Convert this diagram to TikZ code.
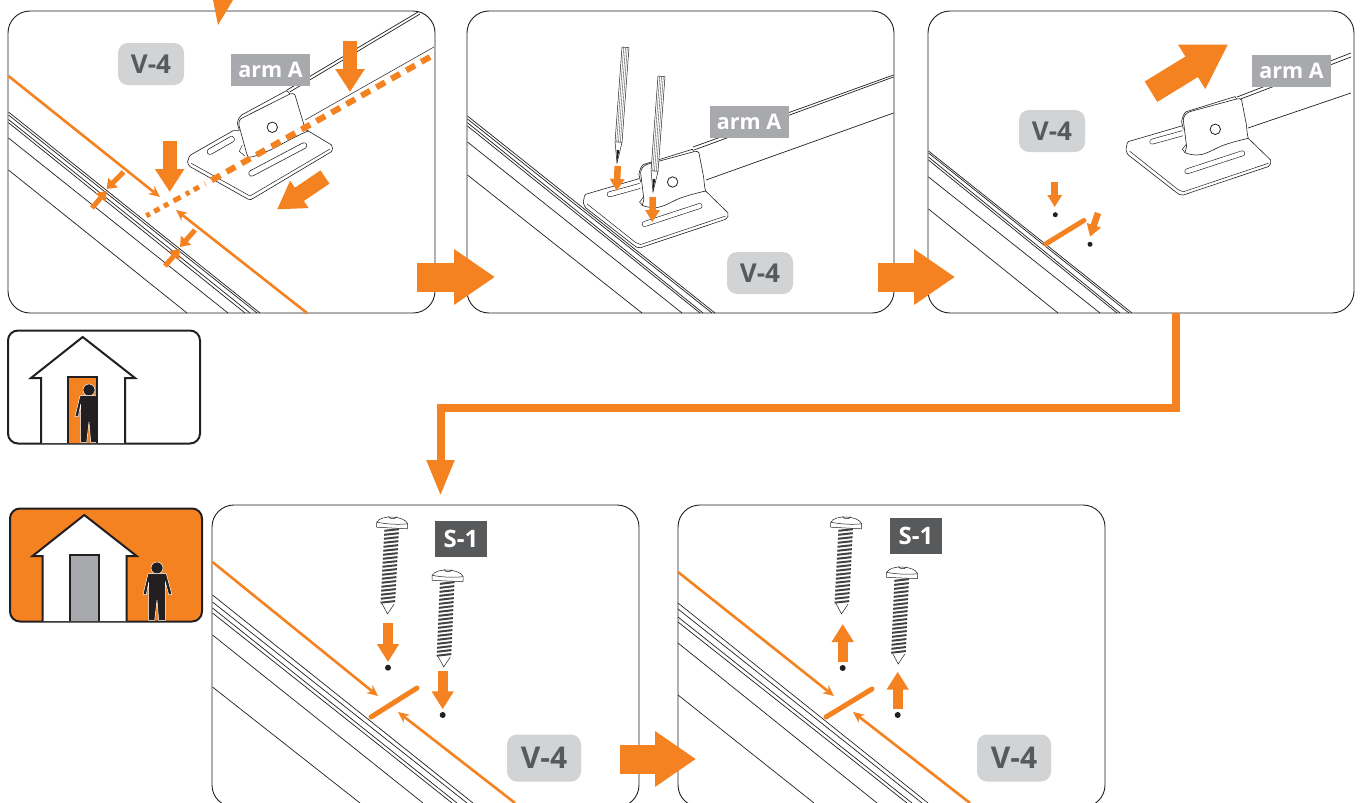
\documentclass[tikz,border=0pt]{standalone}
\usepackage{fontspec}
\setmainfont{Open Sans}
\usetikzlibrary{arrows.meta}
\definecolor{brand}{HTML}{F58220}
\definecolor{ink}{HTML}{231F20}
\definecolor{slate}{HTML}{58595B}
\definecolor{mist}{HTML}{D1D3D4}
\definecolor{steel}{HTML}{A7A9AC}
\tikzset{
  panel/.style={draw=ink,line width=0.9pt,rounded corners=22pt,minimum width=427pt,minimum height=302pt,inner sep=0pt,outer sep=0pt},
  iconbox/.style={draw=ink,line width=2pt,rounded corners=10pt,minimum width=192pt,minimum height=113pt,inner sep=0pt,outer sep=0pt,fill=#1},
  iconbox/.default=white,
  badge/.style={fill=mist,text=slate,rounded corners=10pt,minimum width=66pt,minimum height=42pt,inner sep=0pt,font=\fontsize{26}{26}\selectfont\bfseries},
  bigbadge/.style={badge,minimum width=74pt,minimum height=47pt,font=\fontsize{30}{30}\selectfont\bfseries},
  armtag/.style={fill=steel,text=white,minimum width=79pt,minimum height=32pt,inner sep=0pt,font=\fontsize{21.5}{21.5}\selectfont\bfseries},
  screwtag/.style={fill=slate,text=white,minimum width=52pt,minimum height=36pt,inner sep=0pt,font=\fontsize{24}{24}\selectfont\bfseries},
  rail/.style={draw=ink,line width=0.7pt},
  guide/.style={draw=brand,line width=2.6pt,-{Stealth[length=11pt,width=10pt]}},
  fat/.style n args={3}{draw=brand,line width=#1pt,-{Triangle[length=#2pt,width=#3pt]}},
  pushbig/.style={fat={14}{23}{28}},
  pushmid/.style={fat={10}{18}{21}},
  pushtiny/.style={fat={6.5}{12}{14}},
  pushpair/.style={fat={5}{9}{13}},
  joint/.style={fat={29}{41}{53}},
  bar/.style={draw=brand,line width=5pt,line cap=round},
  % pictograms
  pics/person/.style={code={
    \filldraw[ink,draw=white,line width=0.5pt] (0,0) circle (6);
    \filldraw[ink,draw=white,line width=0.5pt] (-9,5.7) -- (9.3,5.7) -- (15,26.7) -- (11.7,26.7) -- (8.3,14) -- (8.3,52.3) -- (1.7,52.3)
      -- (0,32) -- (-2.3,52.3) -- (-8.3,52.3) -- (-8.3,14) -- (-10.7,26.7) -- (-14,26.7) -- cycle;
  }},
  pics/house/.style={code={
    \filldraw[fill=white,draw=ink,line width=2pt] (-41.7,106) -- (-41.7,41) -- (-51.7,41) -- (0,0) -- (52.3,41) -- (42.3,41) -- (42.3,106);
    \filldraw[fill=#1,draw=ink,line width=2pt] (-14.7,106) -- (-14.7,40) -- (14.3,40) -- (14.3,106);
  }},
  pics/screw/.style={code={
    \fill[white] (-5,0) rectangle (5,76);
    \foreach \y in {2,6,...,74} \draw[ink!85,line width=2pt] (-7.5,\y+1.2) -- (7,\y-1.2);
    \draw[ink,line width=0.5pt,fill=white] (-6,76) -- (0,86) -- (6,76);
    \draw[ink,line width=0.5pt,fill=white] (-15.5,0) -- (-15.5,-5) .. controls (-12,-13) and (12,-13) .. (15.5,-5) -- (15.5,0) -- cycle;
    \draw[ink,line width=0.5pt] (-15.5,-5) .. controls (-5,-3.5) and (5,-3.5) .. (15.5,-5) (-4,-11.5) -- (-2,-9.5) -- (2,-9.5) -- (4,-11.5);
  }},
  pics/pencil/.style={code={
    \draw[ink,line width=0.5pt,fill=white] (-3.5,-21) -- (0,0) -- (3.5,-21) -- (3.5,-116) -- (-3.5,-116) -- cycle;
    \fill[ink] (-1.3,-13) -- (0,0) -- (1.3,-13) -- cycle;
    \draw[ink,line width=0.5pt] (-3.5,-21) -- (3.5,-21);
    \foreach \x in {-1.8,0,1.8} \draw[ink!80,line width=0.4pt] (\x,-21) -- (\x,-116);
  }},
  % bracket seen at the steeper angle
  pics/steepclip/.style={code={
    \draw[ink,line width=0.6pt,fill=white,line join=round] (-81.7,27.7) -- (-39,3.3) -- (36,3.7) -- (59.3,17.7) .. controls (61,20) and (60,23) .. (59.3,24.3)
      -- (-19,71) .. controls (-21,72.5) and (-22,72.5) .. (-24,72) -- (-82.3,39.3) .. controls (-85,37) and (-85,33) .. (-84,32.7) .. controls (-84,30) and (-83,29) .. (-81.7,27.7) -- cycle;
    \draw[ink,line width=0.5pt] (-81,36) -- (-22.3,68.7) -- (57.7,21.7);
    \draw[ink,line width=6.4pt,line cap=round] (-62.3,24.3) -- (-40.7,12) (-20.7,46) -- (31.7,18.3);
    \draw[white,line width=5pt,line cap=round] (-62.3,24.3) -- (-40.7,12) (-20.7,46) -- (31.7,18.3);
    \fill[white] (-35,-4) .. controls (-34,-8) and (-33,-11) .. (-30.7,-12.3) -- (14.3,-36.7) -- (22.7,-32.3) -- (32.7,1) -- (-25.7,26) -- cycle;
    \draw[ink,line width=0.6pt] (-33,3) -- (-35,-4) .. controls (-34,-8) and (-33,-11) .. (-30.7,-12.3) -- (14.3,-36.7) -- (17.7,-33.3);
    \draw[ink,line width=0.6pt,fill=white] (-25.7,26) -- (-33,-0.7) .. controls (-34,-4) and (-33,-8) .. (-30.7,-9) -- (17.7,-33.3) .. controls (20,-34) and (22,-34) .. (22.7,-32.3)
      -- (32.7,1) .. controls (33,2.5) and (34,3) .. (36,3.7) .. controls (20,10) and (5,20) .. (-5.7,24.3) .. controls (-12,27) and (-19,30) .. (-24,30) -- cycle;
    \draw[ink,line width=0.5pt] (-30,18) -- (-33,24) -- (-27,29);
    \draw[ink,line width=0.8pt,fill=white] (0,0) circle (5.2);
  }},
  % bracket seen at the flatter angle
  pics/flatclip/.style={code={
    \draw[ink,line width=0.6pt,fill=white,line join=round] (-87,12.3) -- (-33.7,-3.3) -- (33,9) -- (55.3,30.7) .. controls (56.5,33) and (55,36) .. (53,37.3)
      -- (-32,65.7) .. controls (-35,66) and (-37,65) .. (-38.7,63.3) -- (-87,25.7) .. controls (-89,23) and (-90,19) .. (-88.7,17.3) .. controls (-88.7,15) and (-88,13) .. (-87,12.3) -- cycle;
    \draw[ink,line width=0.5pt] (-85.5,22) -- (-37,60.5) -- (-32,62.5) -- (53,34);
    \draw[ink,line width=5.6pt,line cap=round] (-63,12.3) -- (-33,4) (-28,42) -- (27,24);
    \draw[white,line width=4.4pt,line cap=round] (-63,12.3) -- (-33,4) (-28,42) -- (27,24);
    \fill[white] (-33.7,-7.7) .. controls (-33,-12) and (-31,-17) .. (-28.7,-17.7) -- (19.7,-32.7) -- (26.3,-29.3) -- (33,4) -- (-30.3,23.3) -- cycle;
    \draw[ink,line width=0.6pt] (-32,0) -- (-33.7,-7.7) .. controls (-33,-12) and (-31,-17) .. (-28.7,-17.7) -- (19.7,-32.7) -- (21.3,-30.3);
    \draw[ink,line width=0.6pt,fill=white] (-28.7,17.3) -- (-32,-9.3) .. controls (-32,-13) and (-29,-16.5) .. (-25.3,-17.7) -- (21.3,-30.3) .. controls (24,-31) and (25.5,-30.5) .. (26.3,-29.3)
      -- (31,-5) .. controls (31.5,0) and (32,6) .. (33,9) .. controls (20,12) and (10,15) .. (4.7,17.3) .. controls (-5,22) and (-12,26) .. (-18.7,25.7) .. controls (-24,25.5) and (-28,24.5) .. (-30.3,23.3) -- cycle;
    \draw[ink,line width=0.5pt] (-29,15) -- (-33,20) -- (-30.3,23.3);
    \draw[ink,line width=0.8pt,fill=white] (0,0) circle (5.2);
  }},
}
\begin{document}
\begin{tikzpicture}[x=1pt,y=-1pt]
  \clip (0,0) rectangle (1361,803);
  \fill[white] (0,0) rectangle (1361,803);

  \node[panel] (p1) at (221.5,162) {};
  \node[panel] (p2) at (680.5,162) {};
  \node[panel,minimum width=426pt] (p3) at (1141,162) {};
  \node[panel] (p4) at (425.5,656) {};
  \node[panel] (p5) at (891.5,656) {};

  % first panel
  \foreach \a/\b in {112/260,115/257,119.5/250,122.7/245,138/228,170/187} \draw[rail] (8.5,\a) -- (\b,313);
  \draw[rail] (418,12) -- (287,90);
  \draw[rail] (420,14) -- (288,93);
  \draw[rail,line width=0.5pt] (434,47) -- (305,120);
  \pic at (272.3,127.3) {steepclip};
  \draw[guide] (8.5,76) -- (160,197);
  \draw[guide] (307,313) -- (176,210);
  \draw[brand,line width=6pt,dash pattern=on 10pt off 7.2pt] (430,57) -- (205,184);
  \draw[brand,line width=5pt,dash pattern=on 6pt off 5pt on 4pt off 6pt on 8pt off 6pt on 5pt off 5pt] (199,187) -- (146,216);
  \draw[pushbig] (350,41) -- (350,92);
  \draw[pushbig] (169.7,141) -- (169.7,192);
  \draw[fat={16}{27}{31}] (325,177) -- (277,209.5);
  \draw[pushpair] (123.5,172) -- (106.7,189);
  \draw[pushpair] (92,208) -- (106.5,191);
  \draw[pushpair] (195,230) -- (180,247);
  \draw[pushpair] (165,266) -- (180,249);
  \node[badge] (v1) at (151,64) {V-4};
  \node[armtag] (arm1) at (270.5,70) {arm A};

  % second panel
  \foreach \a/\b in {116/715,119/712,122.7/703,126/700,142/682,175/642} \draw[rail] (467.5,\a) -- (\b,313);
  \draw[rail] (893.5,75) -- (693,147);
  \draw[rail] (893.5,77) -- (694,150);
  \draw[rail] (893.5,113) -- (706,180);
  \pic at (672.6,182) {flatclip};
  \pic[rotate=-4.2] at (617,163) {pencil};
  \pic[rotate=-4.2] at (653,192) {pencil};
  \draw[pushtiny] (617.7,166) -- (616.7,191);
  \draw[pushtiny] (652.7,197) -- (652.3,222);
  \node[armtag] (arm2) at (749,122) {arm A};
  \node[badge] (v2) at (760,273) {V-4};

  % third panel
  \foreach \a/\b in {151/1132,153/1129,157/1120,160/1117,177/1100,209/1058} \draw[rail] (928.5,\a) -- (\b,313);
  \draw[rail] (1351,53) -- (1237,97);
  \draw[rail] (1351,57) -- (1238,100);
  \draw[rail] (1351,93) -- (1248,128);
  \pic at (1215.3,129.3) {flatclip};
  \draw[fat={24}{43}{49}] (1151,91.7) -- (1228.3,44.3);
  \draw[bar,line cap=butt] (1044,245) -- (1083,221);
  \fill[brand] (1084,220.5) circle (2.5);
  \draw[pushtiny] (1054.7,182) -- (1054.7,207);
  \draw[pushtiny] (1098,213) -- (1090,236.7);
  \fill[ink] (1055.3,214.7) circle (2.5);
  \fill[ink] (1090,244.3) circle (2.5);
  \node[badge] (v3) at (1052,131) {V-4};
  \node[armtag] (arm3) at (1291.5,71) {arm A};

  % fourth panel
  \foreach \a/\b in {595/473,602/467,608/457,613/452,635/423,687/360} \draw[rail] (212.5,\a) -- (\b,803);
  \draw[guide] (212.5,562) -- (378,696);
  \draw[guide] (515,803) -- (398,712);
  \draw[bar] (371,717) -- (417,688);
  \pic[rotate=-3] at (392,528) {screw};
  \pic[rotate=-2.5] at (447.5,581) {screw};
  \draw[pushmid] (388,623) -- (388,662);
  \draw[pushmid] (442.7,671) -- (442.7,709.3);
  \fill[ink] (388,667.7) circle (3);
  \fill[ink] (442.7,715) circle (3);
  \node[screwtag] (s4) at (461,539) {S-1};
  \node[bigbadge] (v4) at (544,758) {V-4};

  % fifth panel
  \foreach \a/\b in {603/928,609/922,617/912,622/907,643/877,695/814} \draw[rail] (678,\a) -- (\b,803);
  \draw[guide] (678,572) -- (834,696);
  \draw[guide] (970,803) -- (853,712);
  \draw[bar] (826,717) -- (872,689);
  \pic[rotate=-3] at (846,528) {screw};
  \pic[rotate=-2.5] at (902,578) {screw};
  \draw[pushmid] (842.7,662) -- (842.7,624);
  \draw[pushmid] (897.7,709.3) -- (897.7,671.7);
  \fill[ink] (842.7,668) circle (3);
  \fill[ink] (897.7,715) circle (3);
  \node[screwtag] (s5) at (916,536) {S-1};
  \node[bigbadge] (v5) at (1014,758) {V-4};

  % house icons
  \node[iconbox] (ic1) at (104,387) {};
  \pic at (82.7,337) {house=brand};
  \begin{scope}
    \clip (68,377) rectangle (97,443);
    \pic at (89,390) {person};
  \end{scope}
  \draw[ink,line width=2pt] (68,443) -- (68,377) -- (97,377) -- (97,443);
  \node[iconbox=brand] (ic2) at (106,565) {};
  \pic at (84.3,515) {house=steel};
  \pic at (157,568) {person};

  % connectors
  \fill[brand] (213,0) -- (233,0) -- (218,25) -- cycle;
  \draw[joint] ([xshift=-18pt,yshift=-115pt]p1.east) -- ([xshift=28pt,yshift=-115pt]p2.west);
  \draw[joint] ([xshift=-16pt,yshift=-115pt]p2.east) -- ([xshift=27pt,yshift=-115pt]p3.west);
  \draw[joint] ([xshift=-19pt,yshift=-103pt]p4.east) -- ([xshift=18pt,yshift=-103pt]p5.west);
  \draw[brand,line width=8pt,-{Triangle[length=36pt,width=26pt]}] ([xshift=35pt]p3.south) -- ++(0,95) -| ([xshift=15pt,yshift=9pt]p4.north);
\end{tikzpicture}
\end{document}
